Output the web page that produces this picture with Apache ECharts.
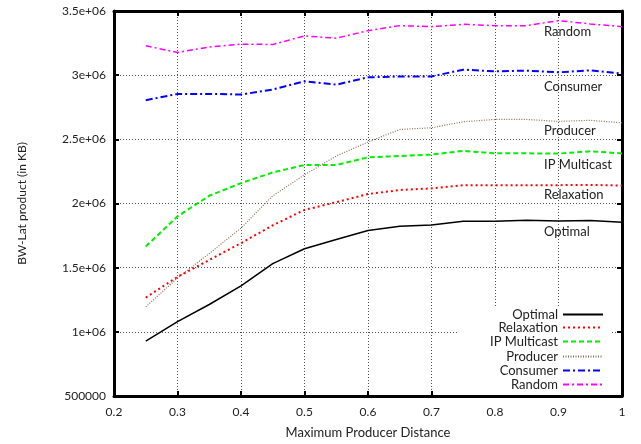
<!DOCTYPE html>
<html>
<head>
<meta charset="utf-8">
<script src="https://cdn.jsdelivr.net/npm/echarts@6/dist/echarts.min.js"></script>
<style>html,body{margin:0;padding:0;background:#fff}#c{width:641px;height:444px}</style>
</head>
<body>
<div id="c"></div>
<script>
var xValues = [0.25,0.3,0.35,0.4,0.45,0.5,0.55,0.6,0.65,0.7,0.75,0.8,0.85,0.9,0.95,1.0];
var optimal     = [928000,1079000,1213000,1358000,1531000,1647000,1720000,1789000,1823000,1833000,1862000,1862000,1870000,1864000,1867000,1854000];
var relaxation  = [1267000,1428000,1560000,1691000,1830000,1950000,2010000,2074000,2105000,2118000,2143000,2143000,2143000,2143000,2145000,2140000];
var ipMulticast = [1665000,1900000,2060000,2159000,2242000,2300000,2300000,2360000,2370000,2381000,2410000,2391000,2391000,2389000,2407000,2390000];
var producer    = [1195000,1420000,1610000,1808000,2060000,2223000,2370000,2479000,2577000,2590000,2637000,2655000,2655000,2640000,2648000,2629000];
var consumer    = [2805000,2854000,2854000,2849000,2888000,2952000,2926000,2983000,2990000,2990000,3043000,3030000,3035000,3022000,3038000,3012000];
var random      = [3229000,3177000,3219000,3242000,3239000,3306000,3288000,3347000,3386000,3378000,3396000,3386000,3386000,3425000,3399000,3378000];
var seriesNames = ['Optimal','Relaxation','IP Multicast','Producer','Consumer','Random'];
var xTicks = {min:0.2, max:1.0, interval:0.1};
var yTicks = {min:500000, max:3500000, interval:500000};

var FONT = 'Lato';
function pairs(ys){ return xValues.map(function(x,i){ return [x, ys[i]]; }); }
var styles = [
  {color:'#000000', width:1.5, type:'solid'},
  {color:'#ff0000', width:2, type:[2,3]},
  {color:'#00ee00', width:2, type:[5,3]},
  {color:'#8c7058', width:1.2, type:[1,1.5]},
  {color:'#0000ff', width:2, type:[7,3,2,3]},
  {color:'#ff00ff', width:1.5, type:[6,3,2,3]}
];
var dataSets = [optimal, relaxation, ipMulticast, producer, consumer, random];
var series = seriesNames.map(function(n,i){
  return {
    name:n, type:'line', symbol:'none', smooth:false, animation:false,
    data:pairs(dataSets[i]),
    lineStyle:{color:styles[i].color, width:styles[i].width, type:styles[i].type},
    itemStyle:{color:styles[i].color}
  };
});
var legendTops = [308,321,335,350,364,378];
var legends = seriesNames.map(function(n,i){
  return {
    data:[n], right:37, top:legendTops[i], align:'right', orient:'vertical',
    itemWidth:40, itemHeight:12, padding:0, itemGap:0,
    itemStyle:{opacity:0},
    textStyle:{fontFamily:FONT, fontSize:13, color:'#222', padding:[0,0,0,0]},
    selectedMode:false
  };
});
var annot = [
  {t:'Random', y:32},{t:'Consumer', y:87},{t:'Producer', y:131},
  {t:'IP Multicast', y:165},{t:'Relaxation', y:195},{t:'Optimal', y:232}
];
var graphics = [{type:'rect', shape:{x:457, y:306, width:155, height:89}, style:{fill:'#fff'}, z:1}];
annot.forEach(function(a){
  graphics.push({type:'text', x:544, y:a.y, z:5, style:{text:a.t, font:'13px '+FONT, fill:'#222', textVerticalAlign:'middle'}});
});

function axisLine(){ return {show:true, onZero:false, lineStyle:{color:'#000', width:3, type:'solid', opacity:1}}; }
function tick(){ return {show:true, inside:true, length:5, lineStyle:{color:'#000', width:2}}; }
function split(){ return {show:true, showMinLine:false, showMaxLine:false, lineStyle:{color:'#555', width:1, type:[1,2]}}; }
var opt = {
  animation:false,
  grid:{left:114, right:19, top:11, bottom:46},
  legend:legends,
  xAxis:[
    {type:'value', min:xTicks.min, max:xTicks.max, interval:xTicks.interval,
     axisLine:axisLine(), axisTick:tick(), splitLine:split(),
     axisLabel:{fontFamily:FONT, fontSize:12, color:'#222', margin:10,
       formatter:function(v){ return String(Math.round(v*10)/10); }},
     name:'Maximum Producer Distance', nameLocation:'middle', nameGap:30,
     nameTextStyle:{fontFamily:FONT, fontSize:13, color:'#222'}},
    {type:'value', position:'top', min:xTicks.min, max:xTicks.max, interval:xTicks.interval,
     axisLine:axisLine(), axisTick:tick(), splitLine:{show:false}, axisLabel:{show:false}}
  ],
  yAxis:[
    {type:'value', min:yTicks.min, max:yTicks.max, interval:yTicks.interval,
     axisLine:axisLine(), axisTick:tick(), splitLine:split(),
     axisLabel:{fontFamily:FONT, fontSize:12, color:'#222', margin:8,
       formatter:function(v){ if(v===500000) return '500000'; return (v/1e6)+'e+06'; }},
     name:'BW-Lat product (in KB)', nameLocation:'middle', nameGap:86, nameRotate:90,
     nameTextStyle:{fontFamily:FONT, fontSize:12, color:'#222'}},
    {type:'value', position:'right', min:yTicks.min, max:yTicks.max, interval:yTicks.interval,
     axisLine:axisLine(), axisTick:tick(), splitLine:{show:false}, axisLabel:{show:false}}
  ],
  graphic:graphics,
  series:series
};
var chart = echarts.init(document.getElementById('c'), null, {renderer:'canvas'});
chart.setOption(opt);
</script>
</body>
</html>
